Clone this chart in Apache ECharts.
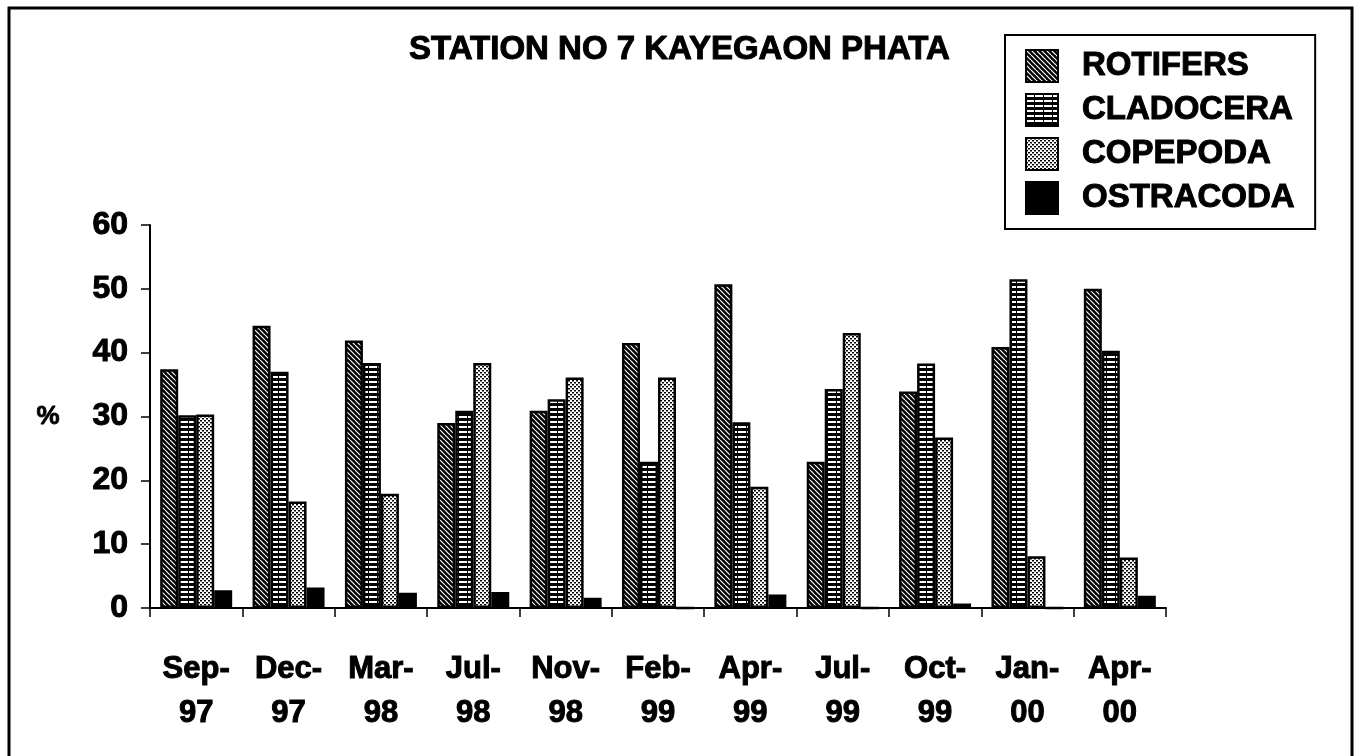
<!DOCTYPE html>
<html>
<head>
<meta charset="utf-8">
<title>Station No 7 Kayegaon Phata</title>
<script src="https://cdn.jsdelivr.net/npm/echarts@6/dist/echarts.min.js"></script>
<style>
  html, body { margin: 0; padding: 0; background: #fff; }
  #chart { width: 1355px; height: 756px; }
</style>
</head>
<body>
<div id="chart"></div>
<script>
// 数据
const categories = ['Sep-97', 'Dec-97', 'Mar-98', 'Jul-98', 'Nov-98', 'Feb-99', 'Apr-99', 'Jul-99', 'Oct-99', 'Jan-00', 'Apr-00'];
const rotifers = [37.4, 44.2, 41.9, 29.0, 30.9, 41.5, 50.7, 22.9, 33.9, 40.9, 50.0];
const cladocera = [30.2, 37.0, 38.4, 30.9, 32.7, 22.9, 29.1, 34.3, 38.3, 51.5, 40.3];
const copepoda = [30.3, 16.7, 17.9, 38.4, 36.1, 36.1, 19.0, 43.1, 26.7, 8.1, 7.9];
const ostracoda = [2.8, 3.2, 2.4, 2.5, 1.6, 0, 2.1, 0, 0.7, 0, 1.9];
const yTicks = [0, 10, 20, 30, 40, 50, 60];

const FONT = '"Liberation Sans", Arial, sans-serif';
// 加粗描边，让字体更黑
const HEAVY = { textBorderColor: '#000', textBorderWidth: 1 };

// 填充图案（画布纹理）
function makePattern(kind) {
  const c = document.createElement('canvas');
  const ctx = c.getContext('2d');
  if (kind === 'diag') {
    c.width = 5; c.height = 5;
    ctx.fillStyle = '#000';
    ctx.fillRect(0, 0, 5, 5);
    ctx.strokeStyle = '#fff';
    ctx.lineWidth = 1.2;
    [-5, 0, 5].forEach(x0 => {
      ctx.beginPath();
      ctx.moveTo(x0, 0);
      ctx.lineTo(x0 + 5, 5);
      ctx.stroke();
    });
  } else if (kind === 'horiz') {
    c.width = 9; c.height = 5;
    ctx.fillStyle = '#000';
    ctx.fillRect(0, 0, 9, 5);
    ctx.fillStyle = '#fff';
    ctx.fillRect(0, 1, 8, 2);
  } else if (kind === 'dots') {
    c.width = 4; c.height = 4;
    ctx.fillStyle = '#fff';
    ctx.fillRect(0, 0, 4, 4);
    ctx.fillStyle = '#000';
    ctx.fillRect(0, 0, 2, 1.5);
    ctx.fillRect(2, 2, 2, 1.5);
  }
  return { image: c, repeat: 'repeat' };
}

const chart = echarts.init(document.getElementById('chart'));

function barSeries(name, data, color) {
  return {
    name: name,
    type: 'bar',
    data: data,
    barWidth: 18,
    barGap: '0%',
    itemStyle: { color: color, borderColor: '#000', borderWidth: 2.5 },
  };
}

const option = {
  backgroundColor: '#fff',
  animation: false,
  title: {
    text: 'STATION NO 7 KAYEGAON PHATA',
    left: 409,
    top: 33,
    padding: 0,
    textStyle: Object.assign({ fontFamily: FONT, fontSize: 33, fontWeight: 'bold', color: '#000' }, HEAVY),
  },
  legend: {
    orient: 'vertical',
    left: 1005,
    top: 35,
    padding: [14, 20, 14, 20],
    itemWidth: 32,
    itemHeight: 32,
    itemGap: 10,
    icon: 'rect',
    borderColor: '#000',
    borderWidth: 2,
    textStyle: Object.assign({
      fontFamily: FONT, fontSize: 33, fontWeight: 'bold', color: '#000',
      lineHeight: 32, padding: [0, 0, 0, 19],
    }, HEAVY),
    data: ['ROTIFERS', 'CLADOCERA', 'COPEPODA', 'OSTRACODA'],
  },
  grid: { left: 150, right: 189, top: 225, bottom: 148 },
  xAxis: {
    type: 'category',
    data: categories,
    axisLine: { lineStyle: { color: '#000', width: 2 } },
    axisTick: { show: true, interval: 0, length: 9, lineStyle: { color: '#000', width: 1.5 } },
    axisLabel: Object.assign({
      interval: 0,
      margin: 39,
      fontFamily: FONT,
      fontSize: 31,
      fontWeight: 'bold',
      color: '#000',
      lineHeight: 44,
      formatter: v => v.replace('-', '-\n'),
    }, HEAVY),
  },
  yAxis: {
    type: 'value',
    min: yTicks[0],
    max: yTicks[yTicks.length - 1],
    interval: 10,
    splitLine: { show: false },
    axisLine: { show: true, lineStyle: { color: '#000', width: 2 } },
    axisTick: { show: true, length: 9, lineStyle: { color: '#000', width: 1.5 } },
    axisLabel: Object.assign({ margin: 22, fontFamily: FONT, fontSize: 32, fontWeight: 'bold', color: '#000' }, HEAVY),
  },
  graphic: [
    {
      type: 'rect',
      z: -1,
      shape: { x: 9, y: 8, width: 1343, height: 820 },
      style: { fill: 'none', stroke: '#000', lineWidth: 3 },
    },
    {
      type: 'text',
      left: 36,
      top: 403,
      style: { text: '%', fontFamily: FONT, fontSize: 26, fontWeight: 'bold', fill: '#000', stroke: '#000', lineWidth: 0.8 },
    },
  ],
  series: [
    barSeries('ROTIFERS', rotifers, makePattern('diag')),
    barSeries('CLADOCERA', cladocera, makePattern('horiz')),
    barSeries('COPEPODA', copepoda, makePattern('dots')),
    barSeries('OSTRACODA', ostracoda, '#000'),
  ],
};

chart.setOption(option);
</script>
</body>
</html>
